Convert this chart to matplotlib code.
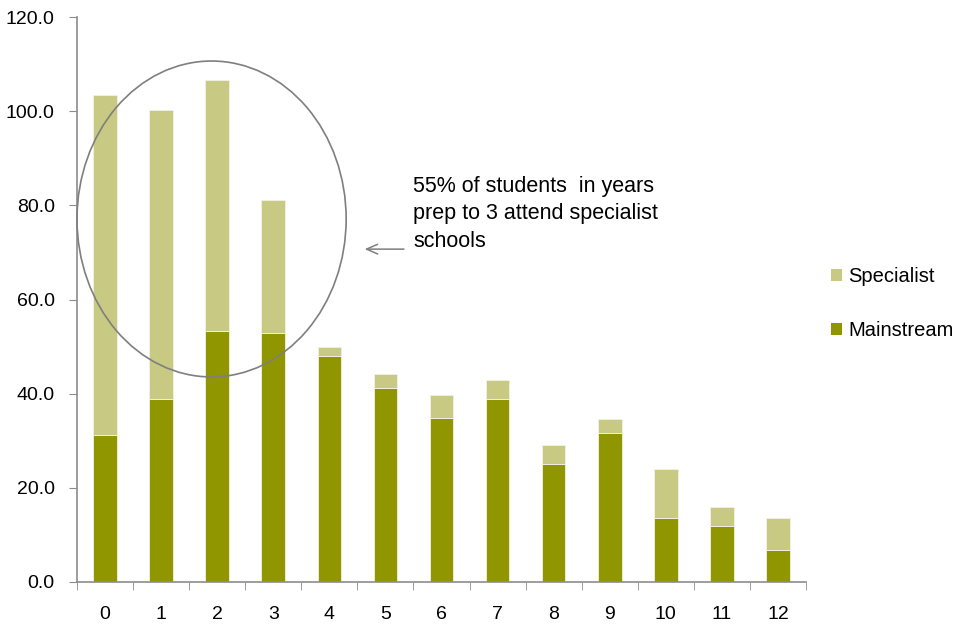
import matplotlib
matplotlib.use("Agg")
import matplotlib.pyplot as plt
from matplotlib.patches import Ellipse
from matplotlib.patches import Patch
import numpy as np

plt.rcParams['font.family'] = ['Liberation Sans', 'DejaVu Sans']

categories = ['0', '1', '2', '3', '4', '5', '6', '7', '8', '9', '10', '11', '12']
mainstream = [31.3, 38.8, 53.4, 52.8, 48.0, 41.1, 34.8, 38.9, 25.1, 31.6, 13.5, 11.9, 6.7]
total = [103.4, 100.2, 106.7, 81.2, 50.0, 44.1, 39.7, 42.8, 29.0, 34.6, 24.1, 15.9, 13.6]
specialist = [t - m for t, m in zip(total, mainstream)]
yticks = [0, 20, 40, 60, 80, 100, 120]
annotation = "55% of students  in years\nprep to 3 attend specialist\nschools"

c_main = '#8F9600'
c_spec = '#C8CA84'
axis_c = '#8C8C8C'

W, H = 957, 628
fig = plt.figure(figsize=(W / 100, H / 100), dpi=100)
ax = fig.add_axes([77 / W, 1 - 582 / H, (806 - 77) / W, (582 - 17) / H])

x = np.arange(len(categories))
bw = 0.42
ax.bar(x, mainstream, width=bw, color=c_main, edgecolor='#F2F2E6', linewidth=0.6, label='Mainstream', zorder=2)
ax.bar(x, specialist, width=bw, bottom=mainstream, color=c_spec, edgecolor='#F2F2E6', linewidth=0.6, label='Specialist', zorder=2)

ax.set_xlim(-0.5, len(categories) - 0.5)
ax.set_ylim(0, 120)
ax.set_yticks(yticks)
ax.set_yticklabels([f"{v:.1f}" for v in yticks], fontsize=14)
ax.set_xticks(x)
ax.set_xticklabels(categories, fontsize=14)
ax.set_xticks(np.arange(len(categories) + 1) - 0.5, minor=True)
ax.tick_params(axis='x', which='major', length=0, pad=17)
ax.tick_params(axis='x', which='minor', length=6, color=axis_c, direction='out')
ax.tick_params(axis='y', length=6, color=axis_c, direction='out', pad=10)

for s in ['top', 'right']:
    ax.spines[s].set_visible(False)
for s in ['left', 'bottom']:
    ax.spines[s].set_color(axis_c)
    ax.spines[s].set_linewidth(1.2)

ell = Ellipse((1.9, 77.1), width=4.8, height=67.1, fill=False, edgecolor='#7F7F7F', linewidth=1.2, zorder=3, clip_on=False)
ax.add_patch(ell)

ax.annotate('', xy=(4.58, 70.7), xytext=(5.38, 70.7),
            arrowprops=dict(arrowstyle='->,head_length=0.8,head_width=0.35', color='#7F7F7F', lw=1.1))

fig.text(413 / W, 1 - 176 / H, annotation, fontsize=15.5, va='top', ha='left', color='#000000', linespacing=1.4)

handles = [Patch(facecolor=c_spec, edgecolor='none'), Patch(facecolor=c_main, edgecolor='none')]
fig.legend(handles, ['Specialist', 'Mainstream'], loc='upper left',
           bbox_to_anchor=(831 / W, 1 - 267 / H), frameon=False, fontsize=14.5,
           handlelength=0.57, handleheight=0.57, handletextpad=0.3, labelspacing=1.75,
           borderpad=0, borderaxespad=0)

fig.savefig('out.png', dpi=100)
